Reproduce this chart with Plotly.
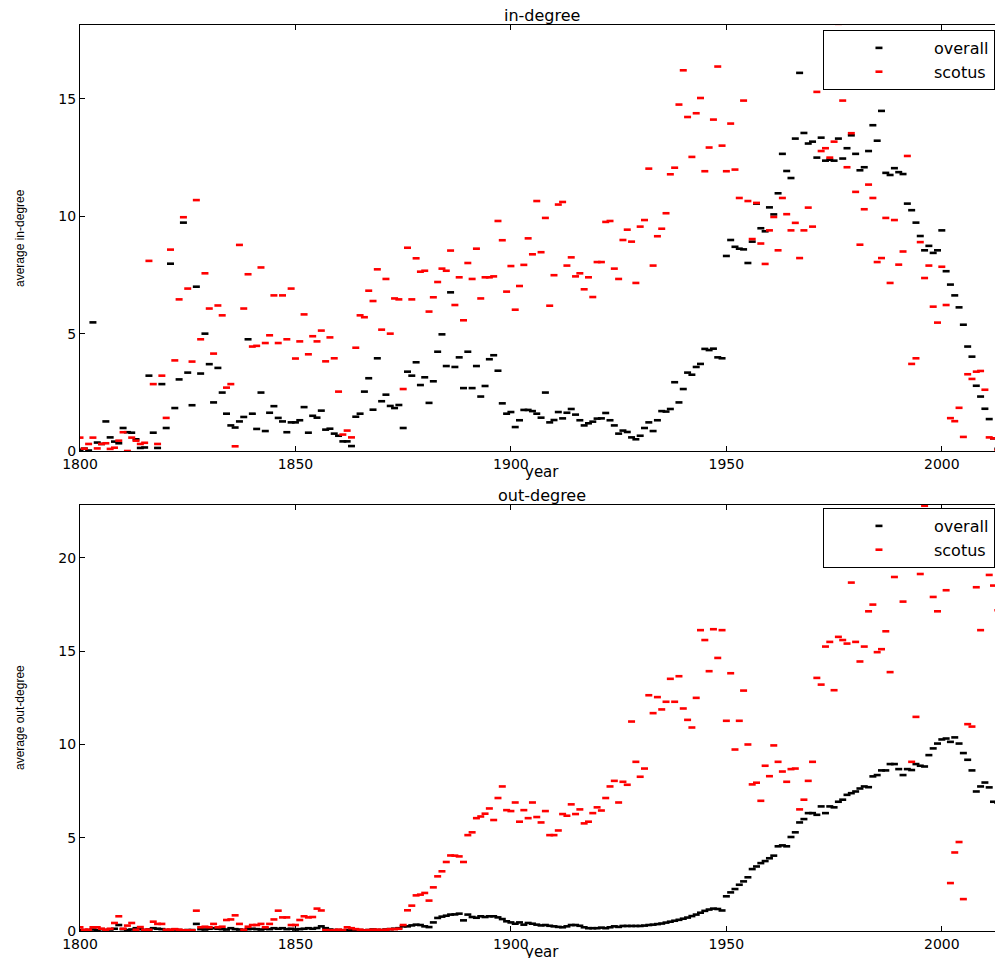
import plotly.graph_objects as go

years = list(range(1800, 2015))

in_overall = [
    0.05, 0.1, 0.02, 5.48, 0.36, 0.3, 1.26, 0.58, 0.4, 0.33,
    0.98, 0.8, 0.78, 0.5, 0.13, 0.15, 3.21, 0.78, 0.13, 2.85,
    0.98, 7.98, 1.83, 3.05, 9.73, 3.34, 1.95, 7.0, 3.3, 5.0,
    3.7, 2.07, 3.54, 2.49, 1.59, 1.09, 1.0, 1.26, 1.45, 4.76,
    1.59, 0.94, 2.49, 0.85, 1.63, 1.91, 1.41, 1.26, 0.8, 1.22,
    1.22, 1.31, 1.87, 0.78, 1.5, 1.42, 1.72, 0.91, 0.95, 0.74,
    0.65, 0.41, 0.41, 0.21, 1.46, 1.59, 2.53, 3.1, 1.76, 3.95,
    2.12, 2.4, 1.92, 1.83, 1.96, 0.98, 3.38, 3.21, 3.78, 2.81,
    3.14, 2.05, 2.97, 4.23, 4.97, 3.62, 6.76, 3.58, 3.99, 2.68,
    4.23, 2.68, 3.62, 2.32, 2.77, 3.91, 4.08, 3.42, 2.03, 1.59,
    1.66, 1.02, 1.31, 1.75, 1.75, 1.7, 1.59, 1.42, 2.49, 1.22,
    1.32, 1.66, 1.39, 1.63, 1.79, 1.55, 1.31, 1.09, 1.18, 1.25,
    1.38, 1.39, 1.62, 1.31, 1.09, 0.74, 0.87, 0.81, 0.58, 0.5,
    0.65, 0.98, 1.22, 0.85, 1.31, 1.7, 1.68, 1.79, 2.93, 2.07,
    2.64, 3.34, 3.25, 3.58, 3.71, 4.35, 4.3, 4.36, 3.99, 3.95,
    8.31, 8.99, 8.7, 8.62, 8.59, 8.01, 8.92, 10.54, 9.49, 9.36,
    10.38, 10.08, 10.98, 12.66, 11.93, 11.63, 13.31, 16.11, 13.55, 13.1,
    13.18, 12.5, 13.35, 12.37, 12.41, 12.37, 13.31, 12.46, 12.9, 13.45,
    12.66, 11.96, 12.09, 12.78, 13.88, 13.22, 14.49, 11.85, 11.76, 12.05,
    11.88, 11.8, 10.54, 10.26, 9.73, 9.16, 8.55, 8.74, 8.44, 8.55,
    9.4, 7.66, 7.09, 6.63, 6.12, 5.38, 4.45, 4.02, 2.78, 2.32,
    1.8, 1.36, 0.54, 0.09, 0.05,
]

in_scotus = [
    0.57, 0.1, 0.3, 0.57, 0.11, 0.3, 0.33, 0.09, 0.14, 0.44,
    0.8, 0.0, 0.57, 0.44, 0.3, 0.35, 8.1, 2.85, 0.3, 3.21,
    1.41, 8.58, 3.86, 6.46, 9.96, 6.92, 3.81, 10.69, 4.76, 7.57,
    6.07, 4.15, 6.2, 5.78, 2.7, 2.85, 0.2, 8.78, 6.07, 7.53,
    4.45, 4.48, 7.82, 4.6, 4.93, 6.63, 4.6, 6.63, 4.76, 6.92,
    3.94, 4.67, 5.82, 4.12, 4.89, 4.67, 5.13, 3.82, 4.84, 3.95,
    2.53, 0.7, 0.87, 0.58, 4.4, 5.78, 5.7, 6.83, 6.39, 7.74,
    5.17, 7.33, 5.0, 6.5, 6.46, 2.64, 8.66, 6.46, 8.21, 7.64,
    7.68, 5.94, 6.55, 7.2, 7.77, 7.68, 8.54, 6.22, 7.4, 5.57,
    8.01, 7.33, 8.62, 6.5, 7.4, 7.4, 7.44, 9.8, 8.98, 6.79,
    7.88, 6.02, 7.03, 7.93, 9.06, 8.38, 10.65, 8.47, 9.93, 6.19,
    7.49, 10.5, 10.61, 7.9, 8.25, 7.44, 7.57, 6.89, 7.4, 6.56,
    8.05, 8.05, 9.76, 9.8, 7.77, 7.33, 8.99, 9.43, 8.92, 7.16,
    9.56, 9.84, 12.03, 7.9, 9.15, 9.47, 10.13, 11.79, 12.07, 14.76,
    16.22, 14.23, 12.53, 14.39, 15.04, 11.92, 12.93, 14.12, 16.38, 13.01,
    11.92, 13.95, 11.99, 10.78, 14.93, 10.65, 9.03, 10.57, 8.84, 7.97,
    9.4, 9.97, 8.55, 10.78, 10.09, 9.4, 9.72, 8.22, 9.4, 10.37,
    9.56, 15.3, 12.78, 12.9, 12.5, 13.18, 18.2, 14.93, 12.09, 13.54,
    11.04, 8.79, 10.3, 11.35, 10.78, 8.05, 8.22, 9.93, 7.16, 9.84,
    7.94, 8.5, 12.57, 3.71, 3.95, 8.9, 7.37, 7.9, 6.15, 5.47,
    7.85, 6.22, 1.4, 1.27, 1.84, 0.6, 3.27, 3.07, 3.38, 3.41,
    2.61, 0.58, 0.54, 0.04, 0.0,
]

out_overall = [
    0.05, 0.03, 0.05, 0.08, 0.05, 0.1, 0.05, 0.08, 0.12, 0.32,
    0.1, 0.05, 0.08, 0.15, 0.1, 0.05, 0.08, 0.15, 0.12, 0.1,
    0.05, 0.05, 0.08, 0.05, 0.03, 0.05, 0.05, 0.38, 0.1, 0.08,
    0.12, 0.15, 0.12, 0.1, 0.08, 0.15, 0.1, 0.08, 0.05, 0.1,
    0.12, 0.1, 0.08, 0.12, 0.1, 0.15, 0.12, 0.15, 0.1, 0.12,
    0.08, 0.1, 0.12, 0.15, 0.12, 0.16, 0.25, 0.15, 0.08, 0.05,
    0.05, 0.03, 0.05, 0.05, 0.03, 0.05, 0.03, 0.05, 0.08, 0.05,
    0.05, 0.08, 0.1, 0.12, 0.15, 0.25, 0.25, 0.3, 0.34, 0.32,
    0.25, 0.21, 0.46, 0.7, 0.77, 0.82, 0.88, 0.89, 0.93, 0.57,
    0.88, 0.75, 0.71, 0.79, 0.75, 0.79, 0.79, 0.73, 0.64, 0.52,
    0.46, 0.39, 0.46, 0.34, 0.43, 0.39, 0.34, 0.3, 0.32, 0.28,
    0.25, 0.22, 0.2, 0.25, 0.32, 0.32, 0.28, 0.2, 0.15, 0.15,
    0.15, 0.18, 0.15, 0.2, 0.25, 0.22, 0.27, 0.27, 0.27, 0.27,
    0.27, 0.29, 0.32, 0.34, 0.37, 0.4, 0.45, 0.5, 0.55, 0.6,
    0.66, 0.72, 0.8, 0.88, 0.98, 1.08, 1.15, 1.2, 1.18, 1.1,
    1.86, 2.07, 2.25, 2.48, 2.66, 2.88, 3.32, 3.46, 3.64, 3.75,
    3.9, 4.04, 4.54, 4.59, 4.54, 5.04, 5.29, 5.82, 6.0, 6.32,
    6.32, 6.23, 6.68, 6.32, 6.68, 6.63, 6.93, 7.04, 7.3, 7.39,
    7.48, 7.64, 7.75, 7.71, 8.29, 8.36, 8.61, 8.61, 8.95, 8.95,
    8.68, 8.36, 8.68, 8.63, 8.95, 8.86, 8.82, 9.43, 9.79, 10.05,
    10.27, 10.32, 10.14, 10.38, 10.05, 9.54, 9.18, 8.61, 7.48, 7.75,
    7.96, 7.7, 6.93, 6.88, 6.05,
]

out_scotus = [
    0.2, 0.07, 0.07, 0.2, 0.2, 0.12, 0.07, 0.12, 0.43, 0.79,
    0.12, 0.29, 0.43, 0.07, 0.21, 0.07, 0.07, 0.5, 0.38, 0.38,
    0.07, 0.07, 0.1, 0.07, 0.04, 0.04, 0.04, 1.09, 0.2, 0.23,
    0.2, 0.38, 0.2, 0.23, 0.59, 0.62, 0.84, 0.38, 0.07, 0.23,
    0.32, 0.32, 0.38, 0.2, 0.38, 0.62, 1.09, 0.73, 0.73, 0.32,
    0.32, 0.59, 0.79, 0.73, 0.75, 1.2, 1.1, 0.05, 0.03, 0.05,
    0.07, 0.05, 0.2, 0.15, 0.1, 0.07, 0.03, 0.05, 0.07, 0.07,
    0.05, 0.07, 0.1, 0.1, 0.12, 0.32, 1.11, 1.36, 1.91, 1.95,
    2.04, 1.63, 2.34, 2.93, 3.2, 3.7, 4.05, 4.04, 4.0, 3.7,
    5.14, 5.29, 6.05, 6.14, 6.29, 6.57, 5.95, 7.13, 7.75, 6.48,
    6.43, 6.89, 5.86, 6.48, 6.05, 6.89, 6.11, 5.82, 6.43, 5.14,
    5.14, 5.39, 6.27, 6.18, 6.79, 6.27, 6.52, 5.77, 5.86, 6.32,
    6.63, 6.46, 7.13, 7.75, 8.05, 6.89, 8.0, 7.84, 11.23, 9.07,
    8.27, 8.71, 12.64, 11.68, 12.54, 11.88, 12.29, 13.52, 12.29, 13.66,
    11.93, 11.32, 10.91, 12.5, 16.13, 15.6, 13.93, 16.18, 14.64, 16.13,
    11.27, 13.82, 9.73, 11.27, 12.89, 10.0, 7.86, 7.95, 6.98, 8.86,
    8.3, 9.95, 9.07, 8.55, 8.0, 8.68, 8.71, 6.52, 7.04, 8.05,
    9.07, 13.57, 13.21, 15.25, 15.5, 12.91, 15.77, 15.6, 15.41, 18.68,
    15.5, 14.45, 15.25, 17.14, 17.5, 14.95, 15.11, 16.07, 13.88, 18.98,
    19.75, 17.66, None, 9.07, 11.48, 19.14, 22.8, 19.54, 17.91, 17.14,
    None, 18.27, 2.57, 4.21, 4.77, 1.71, 11.09, 10.96, 18.43, 16.13,
    None, 19.09, 18.52, 17.2, 15.66,
]

x_ticks = [1800, 1850, 1900, 1950, 2000]
in_ticks = [0, 5, 10, 15]
out_ticks = [0, 5, 10, 15, 20]
series_names = ["overall", "scotus"]
series_colors = ["black", "red"]

TICKFONT = dict(family="DejaVu Sans", size=14, color="black")
LABELFONT = dict(family="DejaVu Sans", size=15, color="black")
YLABELFONT = dict(family="Liberation Sans", size=12, color="black")
TITLEFONT = dict(family="DejaVu Sans", size=16, color="black")


def marker(c):
    return dict(symbol="line-ew", size=5, color=c, line=dict(width=2.6, color=c))


fig = go.Figure()
for name, col, vals in zip(series_names, series_colors, [in_overall, in_scotus]):
    fig.add_trace(go.Scatter(x=years, y=vals, mode="markers", name=name,
                             marker=marker(col), xaxis="x", yaxis="y",
                             legend="legend"))
for name, col, vals in zip(series_names, series_colors, [out_overall, out_scotus]):
    fig.add_trace(go.Scatter(x=years, y=vals, mode="markers", name=name,
                             marker=marker(col), xaxis="x2", yaxis="y2",
                             legend="legend2"))

top_dom = [0.5298, 1.0]
bot_dom = [0.0, 0.4702]

xcommon = dict(range=[1800, 2014.2], tickvals=x_ticks, ticks="inside", ticklen=5,
               tickcolor="black", showline=True, linecolor="black", linewidth=1.2,
               mirror="ticks", showgrid=False, zeroline=False, tickfont=TICKFONT)
ycommon = dict(ticks="inside", ticklen=5, tickcolor="black", showline=True,
               linecolor="black", linewidth=1.2, showgrid=False, zeroline=False,
               tickfont=TICKFONT)

legcommon = dict(x=0.9913, xanchor="right", yanchor="top",
                 bgcolor="white", bordercolor="black", borderwidth=1,
                 font=dict(family="DejaVu Sans", size=16, color="black"),
                 itemwidth=100, tracegroupgap=0)

# page body has an 8px margin: compensate so the plot area lands where the reference has it
fig.update_layout(
    width=995, height=950,
    margin=dict(l=72, r=0, t=17, b=27),
    paper_bgcolor="white", plot_bgcolor="white",
    xaxis=dict(domain=[0, 1], anchor="y", **xcommon),
    xaxis2=dict(domain=[0, 1], anchor="y2", **xcommon),
    yaxis=dict(domain=top_dom, anchor="x", range=[0, 18.15], tickvals=in_ticks, **ycommon),
    yaxis2=dict(domain=bot_dom, anchor="x2", range=[0, 22.84], tickvals=out_ticks, **ycommon),
    legend=dict(y=0.9945, **legcommon),
    legend2=dict(y=0.4669, **legcommon),
    annotations=[
        dict(text="in-degree", x=0.5, y=top_dom[1], xref="paper", yref="paper",
             xanchor="center", yanchor="middle", yshift=10, showarrow=False, font=TITLEFONT),
        dict(text="out-degree", x=0.5, y=bot_dom[1], xref="paper", yref="paper",
             xanchor="center", yanchor="middle", yshift=9, showarrow=False, font=TITLEFONT),
        dict(text="year", x=0.5, y=top_dom[0], xref="paper", yref="paper",
             xanchor="center", yanchor="middle", yshift=-21, showarrow=False, font=LABELFONT),
        dict(text="year", x=0.5, y=bot_dom[0], xref="paper", yref="paper",
             xanchor="center", yanchor="middle", yshift=-21, showarrow=False, font=LABELFONT),
        dict(text="average in-degree", x=-0.065, y=(top_dom[0] + top_dom[1]) / 2,
             xref="paper", yref="paper", xanchor="center", yanchor="middle",
             textangle=-90, showarrow=False, font=YLABELFONT),
        dict(text="average out-degree", x=-0.065, y=(bot_dom[0] + bot_dom[1]) / 2,
             xref="paper", yref="paper", xanchor="center", yanchor="middle",
             textangle=-90, showarrow=False, font=YLABELFONT),
    ],
)

fig.write_html("out.html")
